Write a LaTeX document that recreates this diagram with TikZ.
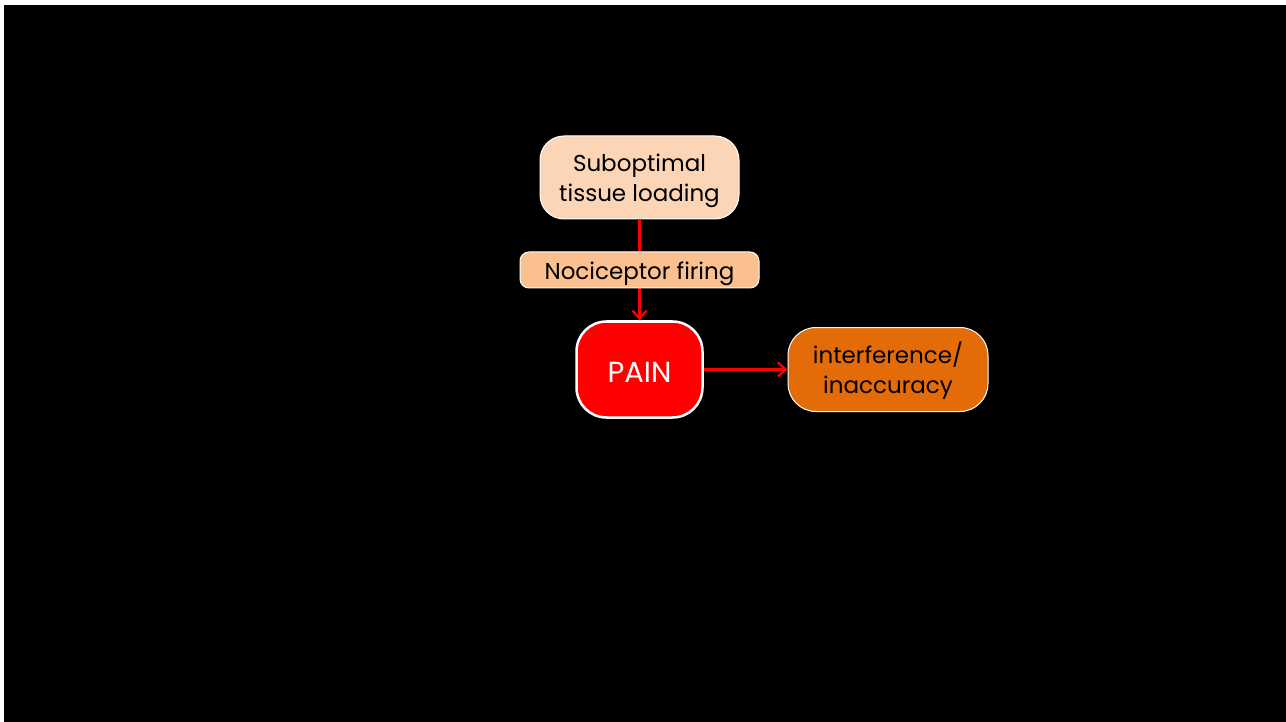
\documentclass[tikz,border=0pt]{standalone}
\usepackage{fontspec}
\setmainfont{Poppins}
\usetikzlibrary{arrows.meta}
\definecolor{peachlight}{HTML}{FBD5B5}
\definecolor{peach}{HTML}{FAC090}
\definecolor{painred}{HTML}{FF0000}
\definecolor{burnt}{HTML}{E36C09}
\begin{document}
\begin{tikzpicture}[x=1pt,y=-1pt,
  box/.style={draw=white, line width=1pt, rounded corners=24pt, align=center,
    text=black, font=\fontsize{23}{30}\selectfont, inner sep=0pt},
  link/.style={draw=painred, line width=2.2pt, -{Straight Barb[length=8pt,width=14pt,line width=2.2pt]}}]
  % slide area
  \fill[white] (0,0) rectangle (1286,722);
  \fill[black] (4,5) rectangle (1286,722);
  \useasboundingbox (0,0) rectangle (1286,722);
  % boxes
  \node[box, fill=peachlight, minimum width=199pt, minimum height=83pt]
    (load) at (639.5,177.5) {\rule{0pt}{24pt}Suboptimal\\tissue loading};
  \node[box, fill=painred, draw=white, line width=2.5pt, rounded corners=30pt,
    minimum width=126pt, minimum height=96pt, text=white,
    font=\fontsize{29}{30}\selectfont] (pain) at (639.5,369.5) {\rule{0pt}{25pt}PAIN};
  \draw[link] (load.south) -- (pain.north);
  \node[box, fill=peach, rounded corners=9pt, minimum width=239pt, minimum height=36pt]
    (noci) at (639.5,270) {\rule{0pt}{25pt}Nociceptor firing};
  \node[box, fill=burnt, rounded corners=28pt, minimum width=200pt, minimum height=84pt]
    (interf) at (888,369.5) {\rule{0pt}{23pt}interference/\\inaccuracy};
  \draw[link] (pain.east) -- (interf.west);
\end{tikzpicture}
\end{document}
